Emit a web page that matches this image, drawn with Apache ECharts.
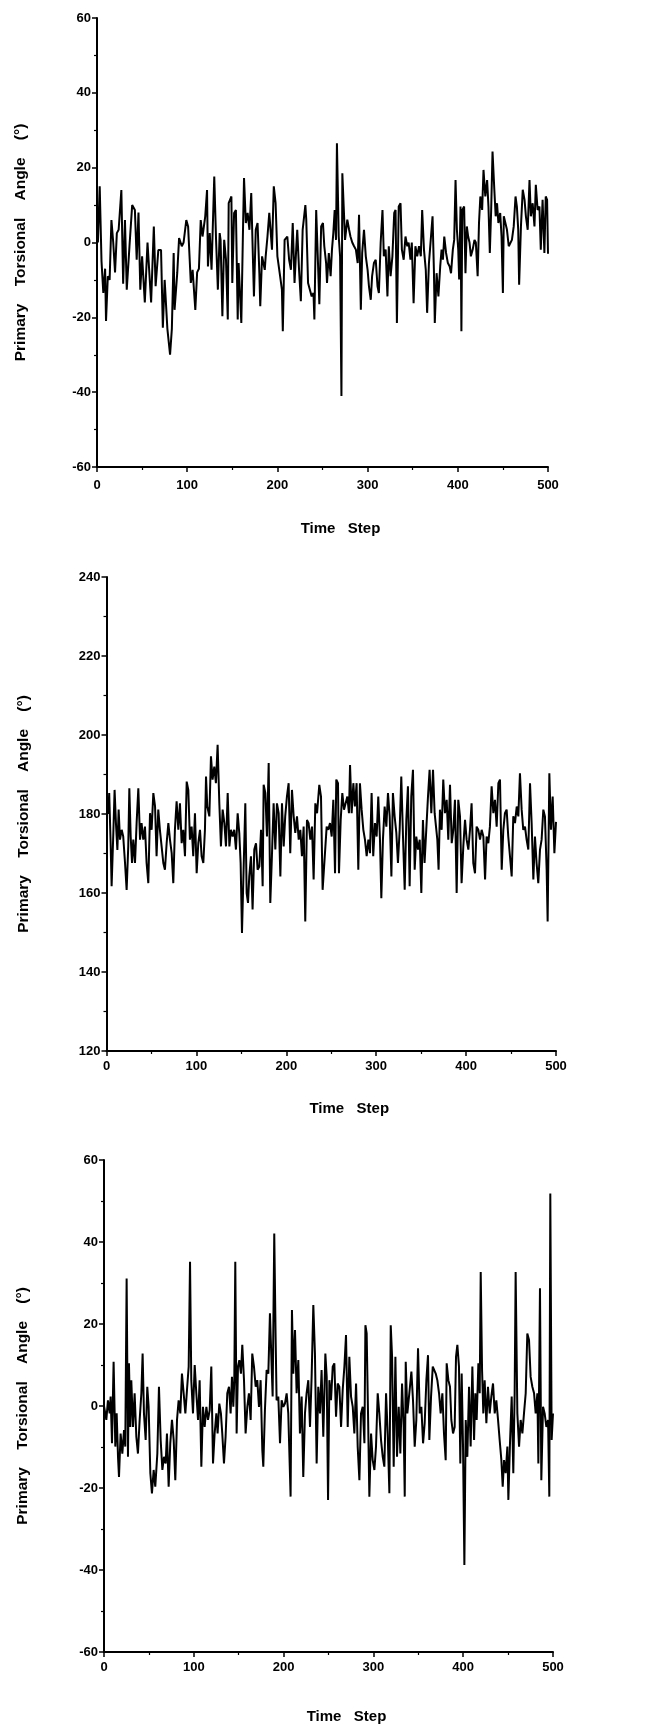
<!DOCTYPE html>
<html><head><meta charset="utf-8">
<script src="https://cdn.jsdelivr.net/npm/echarts@6/dist/echarts.min.js"></script>
<style>html,body{margin:0;padding:0;background:#fff}#c{width:653px;height:1726px}</style>
</head><body><div id="c"></div>
<script>
// ---- Panel 1 ----
var p1Steps = [0,1,3,5,7,9,10,12,14,16,18,20,22,24,27,29,31,33,36,39,42,44,46,48,50,53,56,58,60,63,65,68,71,73,75,78,81,83,85,86,89,91,94,96,99,101,104,106,109,111,113,115,117,120,122,
123,125,127,130,132,134,136,137,139,141,143,145,146,149,150,152,154,156,157,160,162,163,165,167,169,171,173,174,176,178,180,181,183,186,187,189,191,193,194,196,198,200,203,205,206,208,210,211,213,215,217,219,221,222,224,226,228,231,232,234,236,238,240,241,243,245,246.5,
248.5,250.5,252,254,255,257,259,260.5,262,263.5,265,266,268,269.5,271,272,273.5,275,277.5,279.5,281,283,285,287,289,290.5,292.5,294,296,298,300,301.5,303.5,305,307,309,311,312.5,314.5,316.5,318,320,322,323.5,325.5,327.5,329.5,331,332.5,334.5,336.5,338,340,342,344,345.5,347.5,349,351,353,355,357,359,360.5,362.5,364.5,366,368,
370,372,373.5,374.5,376.5,378.5,380.5,382,383.5,385,387,389,391,392.5,394.5,396,397.5,399,400.5,401.5,403,404,405,407,408.5,410,411.5,413,414.5,416.5,418.5,420,422,423.5,425,427,428.5,430.5,432.5,434,435.5,437,438.5,440.5,442,443.5,445,447,448.5,450,451,453,454.5,456.5,458.5,460,462,464,465.5,467,468,470,472,474,475.5,477.5,479.5,481,483,485,486.5,488.5,490.5,492,494,496,497.5,499,500];
var p1Angles = [2,0,15,-5,-13.5,-7,-21,-9,-10,6,0,-8,2.5,3.4,14,-11,6,-12.6,-1,10,8.7,-4.6,8,-12.6,-3.7,-16,0,0,-16,4.3,-11.7,-2,-2,-22.8,-10,-23,-30,-23,-2.8,-18,-8,1.2,-1,0,6,4.3,-10.8,-7.3,-18,-8,-7,6,1.6,7,14,
-6.4,2.5,-7.3,17.6,0.7,-12.6,2.5,0.7,-19.7,0.7,-4.6,-20.6,10.5,12.3,-10.8,7.9,8.7,-20.6,-5.5,-21.5,5.2,17.2,5.2,7.9,3.4,13.2,-5.5,-14.4,3.4,5.2,-8.2,-17,-3.7,-7.3,-3.7,1.6,7.9,7.9,-1.9,15,10.5,-3.7,-9,-12.6,-23.7,0.7,0.7,1.6,-4.6,-7.3,5.2,-10.8,-1,3.4,-7.3,-15.7,3.4,10,6.1,-10.8,-12.6,-14.4,-13.5,-20.6,8.7,-5.5,-16.5,
4.3,5.2,-1,-5.5,-10.8,-2.8,-9,-1.9,2.5,8.7,0.7,26.5,1.6,-3.7,-41,18.5,9.6,0.7,6.1,3.4,1.6,0,-1,-1.9,-5.5,7.4,-18,-2.8,3.4,-3.7,-7.3,-11.7,-15.3,-9,-5.5,-4.6,-11.7,-13.5,0,8.7,-3.7,-1.9,-14.4,-1,-9,-3.7,7.9,8.7,-21.5,9.6,10.5,-1.9,-4.6,1.6,-1,0,-4.6,0,-16.2,-1,-3.7,-1,-3.7,8.7,-1.9,-7.3,-18.8,-5.5,
-5,7,-7.3,-21.5,-8.2,-14.4,-6.4,-1.9,-4.6,1.6,-2.8,-5.5,-6.4,-8.2,-1.9,0.7,16.7,3.4,-1.9,-9.9,9.6,-23.7,8.7,9.6,-8.2,4.3,1.6,0,-3.7,-1.9,0.7,0,-9,5.2,12.3,8.7,19.4,12.3,16.7,9.6,-2.8,8.7,24.3,14.1,7,10.5,5.2,7.9,1.6,-13.5,7,7,3.4,-1,-1,0.7,4.3,12.3,9.6,3.4,-11.3,4.3,14.1,11.4,7,3.4,16.7,7,10.5,4.3,15.4,8.7,9.6,-1.9,11.4,-2.8,12.3,11.4,-3];

// ---- Panel 2 ----
var p2Steps = [2,3,4.6,5.7,7.6,9,10.5,12.1,13.5,15,16.9,18.6,20.6,22.4,24.2,25.4,26.9,28.4,29.8,31.7,33.5,35.4,37.3,39,40.9,42.8,44.6,46.5,48.4,50.2,52.1,54,55.7,57.6,59.4,61.3,63.2,65,66.9,68.8,70.6,72.5,74.3,76.1,78,79.9,81.7,83.6,85.4,87.3,89.2,91,92.8,94.7,96.5,98.4,100.3,102.1,104,105.8,107.7,109.5,110.7,112.1,114.4,116.2,118,119.9,121.7,123.6,
125.5,127.3,129.2,131.1,132.9,134.8,136.7,138.4,140.3,142.1,144,145.9,147.7,149.2,150.7,152.5,154.4,155.9,157.4,158.8,160.7,162.5,164.4,166.3,168.1,170,171.9,173.7,174.8,176.7,178.5,180.4,182.2,184,185.9,187.8,189.6,191.5,193.4,195.2,197.1,198.8,200.7,202.6,204.4,206.3,208.2,210,211.9,213.8,215.6,217.4,219.3,221.1,223,224.8,226.7,228.6,230.4,232.3,234.2,236.7,238.6,240.4,
244.9,246.7,248.6,250.5,252.3,254.2,255.6,257.5,258.6,260.5,262.3,264.2,266,267.9,269.7,270.9,272.7,274.6,276.3,278.2,280.1,281.9,283.8,285.7,287.5,289.4,291.3,293.1,294.9,296.7,298.6,300.5,302.3,304.2,305.7,307.5,309.4,311.3,313.1,315,316.9,318.6,320.5,322.4,324.2,326.1,327.9,329.8,331.7,333.5,335.3,337.2,339,340.9,342.8,344.6,346.5,348.4,350.2,352,353.8,355.7,357.6,359.4,361.3,363.2,365,
368,369.4,370.9,372.8,374.6,376.5,378.4,380.2,382.1,384,385.8,387.6,389.5,391.3,393.2,395,396.9,398.8,400.6,402.5,404.3,406.1,408,409.9,411.7,413.6,415.5,417.3,419.2,421.1,422.8,424.7,426.5,428.4,430.3,432.1,434,435.9,437.7,439.6,441.4,443.2,445.1,446.9,448.8,450.7,452.5,454.4,456.3,458.1,459.9,461.8,463.6,465.5,467.3,469.2,471.1,472.9,474.8,476.6,478.4,480.3,482.2,484,485.9,487.7,489.6,490.7,492.6,494.4,496.3,498.2,500];
var p2Angles = [180,185.3,172.6,161.7,175.2,186.1,177.7,170.9,181.1,173.5,176,174.3,167.6,160.8,171.8,186.5,174.3,167.6,173.5,167.6,177.7,186.5,173.5,177.7,173.5,176.8,167.6,162.5,180.2,176,185.3,181.9,169.3,181.1,176,171.8,167.6,165.9,172.6,177.7,173.5,170.1,162.5,176,183.2,176,182.7,172.6,176,169.3,188.2,186.1,173.5,176.8,169.3,180.2,165,172.6,176,169.3,167.6,176,189.5,181.9,179.4,194.6,188.7,192,187.8,197.5,
182.7,171.8,181.1,177.7,171.8,185.3,171.8,176,174.3,176,171,180.2,175.2,167.6,149.9,165.9,182.7,160,157.5,164.2,169.3,155.8,171,172.6,165.9,166.7,176,161.7,187.4,185.3,174.3,192.9,157.5,169.3,182.7,171,182.7,180.2,164.2,182.7,171.8,179.4,184.4,187.8,170.1,186.1,179.4,175.2,179.4,173.5,176,169.3,176.8,152.8,178.5,177.7,173.5,176.8,163.4,182.7,180.2,187.4,184.4,160.8,
176.8,176,177.7,174.3,183.6,165,188.7,187.8,165,178.5,185.3,181.1,182.7,184.4,180.2,192.4,180.2,187.8,181.9,187.8,165.9,187.8,181.1,176,173.5,169.3,173.5,170.1,185.3,169.3,177.7,174.3,184.4,173.5,158.7,173.5,181.9,176.8,185.3,179.4,164.2,185.3,179.4,175.2,167.6,176,189.5,174.3,160.8,178.5,187,161.7,184.4,191.2,165.9,174.3,171,173.5,160,178.5,167.6,176,184.4,191.2,180.2,191.2,180.2,
173.5,165.9,181.1,176,188.7,180.2,183.6,173.5,187.4,172.6,176,183.6,160,183.6,179.4,162.5,171.8,178.5,173.5,171,176,182.7,167.6,165,176.8,176,173.5,176,174.3,163.4,174.3,172.6,176.8,187,180.2,183.6,176.8,187.8,188.7,165.9,176,180.2,181.1,174.3,169.3,164.2,179.4,177.7,181.9,179.4,190.3,181.1,176,176.8,173.5,171,187.8,177.7,163.4,174.3,167.6,162.5,171,173.5,181.1,179.4,165.9,152.8,190.3,176,184.4,170.1,178];

// ---- Panel 3 ----
var p3Steps = [0,2.6,4.4,6.3,7.4,8.9,10.7,12.6,14.1,15.6,16.7,18.5,20.4,22.3,23.7,25.2,26.7,27.8,29.3,30.4,32.3,34.1,36,37.8,39.7,41.6,43,44.5,46.4,48.2,49.7,51.6,53.4,55.3,57.1,59.4,61.2,63.1,65,66.8,68.7,70.1,72,73.8,75.7,77.6,79.4,81.3,83.1,85,86.8,88.7,90.6,92.4,94.3,95.8,97.2,99.1,101,102.8,104.7,106.5,108.4,110.2,112.1,114,115.8,117.7,119.5,121.4,123.2,125.1,
126.5,128.4,130.2,131.7,133.6,135.4,137.3,139.2,141,142.5,144,145.1,146.2,147.7,149.2,150.7,152.5,154,155.9,157.7,159.6,161.4,163.3,165.1,167,168.9,170.7,172.6,174.4,176.3,177.4,179.2,181.1,183,184.8,186.7,187.8,189.6,191.1,192.2,194.1,196,197.8,199.7,201.5,203.4,205.2,207.8,209.3,210.8,212.7,214.5,216.4,218.2,220.1,221.9,223.8,225.6,227.5,229.4,231.2,233.1,234.9,236.8,238.6,240.5,242.3,244.2,
246.5,248,249.5,251,252.8,254.7,256.5,258.4,260.2,262.1,264,265.8,267.7,269.5,271.4,273.2,275.1,277,278.8,280.7,282.5,284.4,286.2,288.1,290,291.1,292.5,294,295.5,297.4,299.2,301.1,302.9,304.8,306.6,308.5,310.4,312.2,314.1,315.9,317.8,319.3,320.8,322.6,324.5,326.3,328.2,330,331.9,333.7,334.9,336,337.8,340,342.3,344.1,346,347.8,349.7,351.6,353.4,355.3,357.1,359,360.8,362.3,364.2,366.1,
369.4,371.2,373.1,374.9,376.8,378.6,380.5,381.6,383.5,385.3,386.8,388.7,390.5,392,393.5,395.3,396.8,398.3,399.8,401.3,402.8,404.6,406.5,408.3,410.2,412.1,413.5,415,416.9,418.4,419.5,421,422.4,423.9,425.8,427.6,429.5,431.3,433.2,435.1,436.9,438.8,440.6,442.5,444,445.5,447.3,449.2,450.3,452.1,454,455.8,457.3,458.4,460.3,462.2,464,465.9,467.7,469.6,471.4,473.3,475.1,477,478.9,480.7,482.6,483.7,485.5,487,488.9,490.7,492.6,494.5,495.9,497,498.5,500];
var p3Angles = [0,-3.4,1.4,-1.8,2.3,-9.1,10.8,-9.9,-1.8,-12.4,-17.3,-6.7,-11.6,-5.9,-9.9,31.1,-12.4,10.4,-5.1,6.3,-5.1,3.1,-7.5,-11.6,-3.4,3.1,12.8,-1.8,-8.3,4.7,-0.2,-16.4,-21.3,-15.6,-19.7,-11.6,4.7,-8.3,-15.6,-12.4,-14,-6.7,-19.7,-9.1,-3.4,-8.3,-18.1,-3.4,1.4,-1.8,7.9,3.1,-1.8,3.9,9.6,35.2,6.3,-1.8,10,3.1,-3.4,6.3,-14.8,-0.2,-5.1,-0.2,-3.4,-1,9.6,-14,-6.7,-1.8,
-6.7,0.6,-1.8,-6.7,-14,-7.5,3.1,4.7,-1.8,7.1,-0.2,6.3,35.2,-6.7,9.6,11.2,7.9,14.9,6.3,-6.7,-0.2,3.1,-3.4,12.8,9.6,4.7,6.3,-0.2,6.3,-10.8,-14.8,-1,8.8,7.9,22.6,9.6,2.3,42.1,16.9,1.4,2.3,-9.1,1.4,-0.2,0.6,3.1,-1.8,-22.1,23.4,7.9,18.5,3.1,11.2,-6.7,2.3,-17.3,-1.8,3.1,6.3,-5.1,7.1,24.6,12.8,-14,4.7,-1.8,8.8,-7.5,
12.8,7.1,-22.9,6.3,1.4,9.6,10.4,-2.6,5.5,4.7,-5.1,3.9,9.6,17.3,-5.1,12,2.3,-0.2,-6.7,5.5,-9.9,-18.1,-1.8,-0.2,-9.1,19.7,17.7,-1.8,-22.1,-6.7,-13.2,-15.6,-9.9,3.1,-1.8,-8.3,-12.4,-14.8,3.1,-6.7,-21.3,19.7,12,-14.8,12,-12.4,-0.2,-11.6,5.5,-5.1,-22.1,10.8,-1.8,3.1,8.4,1.4,-9.9,-3.4,14.1,-1.8,-0.2,-9.1,-4.2,6.3,12.4,-8.3,2.3,9.6,
7.9,6.3,3.1,-1.8,3.1,-6.7,-13.2,10.4,6.3,4.7,-3.4,-6.7,-5.1,12,14.9,9.6,-14,7.9,-9.9,-38.8,-3.4,-12.4,4.7,-9.9,9.6,-8.3,3.1,-3.4,10.4,3.1,32.7,8.8,-1.8,6.3,-4.2,4.7,-1.8,2.3,5.5,-1.8,1.4,-3.4,-8.3,-13.2,-19.7,-13.2,-16.4,-9.9,-22.9,-9.1,2.3,-16.4,3.1,32.7,-1.8,-9.9,-3.4,-6.7,-1.8,3.1,17.7,16.1,7.1,4.7,3.1,-1.8,3.1,-14,28.7,-18.1,-0.2,-1.8,-5.1,-3.4,-22.1,51.8,-8.3,-1.8];

var xTicks = [0,100,200,300,400,500];

function zip(a,b){var r=[];for(var i=0;i<a.length;i++)r.push([a[i],b[i]]);return r;}

var font = 'Liberation Sans, Arial, sans-serif';
var yTitle = 'Primary    Torsional    Angle    (\u00B0)';

function xAx(idx, gap, lblMargin){
  return {gridIndex: idx, type:'value', min:xTicks[0], max:xTicks[xTicks.length-1], interval:100,
    name:'Time   Step', nameLocation:'middle', nameGap:gap,
    nameTextStyle:{fontFamily:font, fontWeight:'bold', fontSize:15, color:'#000', padding:[0,0,0,36]},
    axisLine:{onZero:false, lineStyle:{color:'#000', width:2}},
    axisTick:{length:5, lineStyle:{color:'#000', width:1.5}},
    minorTick:{show:true, splitNumber:2, length:3, lineStyle:{color:'#000', width:1.2}},
    axisLabel:{margin:lblMargin, fontFamily:font, fontWeight:'bold', fontSize:13, color:'#000'},
    splitLine:{show:false}};
}
function yAx(idx, mn, mx, gap){
  return {gridIndex: idx, type:'value', min:mn, max:mx, interval:20,
    name:yTitle, nameLocation:'middle', nameGap:gap, nameRotate:90,
    nameTextStyle:{fontFamily:font, fontWeight:'bold', fontSize:15.5, color:'#000'},
    axisLine:{onZero:false, lineStyle:{color:'#000', width:2}},
    axisTick:{length:5, lineStyle:{color:'#000', width:1.5}},
    minorTick:{show:true, splitNumber:2, length:3, lineStyle:{color:'#000', width:1.2}},
    axisLabel:{margin:6, fontFamily:font, fontWeight:'bold', fontSize:13, color:'#000'},
    splitLine:{show:false}};
}
function ser(idx, data){
  return {type:'line', xAxisIndex:idx, yAxisIndex:idx, data:data, showSymbol:false, symbol:'none',
    lineStyle:{color:'#000', width:2}, itemStyle:{color:'#000'}, animation:false};
}

var chart = echarts.init(document.getElementById('c'), null, {renderer:'canvas'});
chart.setOption({
  animation:false,
  backgroundColor:'#fff',
  grid:[
    {left:97, top:18, width:451, height:449},
    {left:106.5, top:577, width:449.5, height:474},
    {left:104, top:1160, width:449, height:492}
  ],
  xAxis:[xAx(0,54,12), xAx(1,50,9), xAx(2,57,9)],
  yAxis:[yAx(0,-60,60,68), yAx(1,120,240,75), yAx(2,-60,60,73)],
  series:[ser(0, zip(p1Steps,p1Angles)), ser(1, zip(p2Steps,p2Angles)), ser(2, zip(p3Steps,p3Angles))]
});
</script></body></html>
